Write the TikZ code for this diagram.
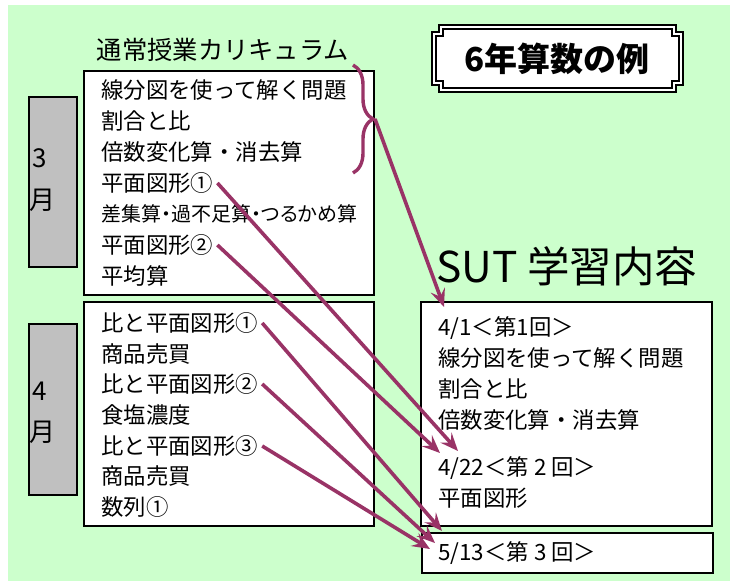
\documentclass[tikz,border=0pt]{standalone}
\usepackage{fontspec}
\setmainfont{Noto Sans CJK JP}
\newfontfamily\narrowjp[RawFeature=+palt]{Noto Sans CJK JP}
\usetikzlibrary{arrows.meta,decorations.pathreplacing}
\definecolor{bggreen}{HTML}{CCFFCC}
\definecolor{plum}{HTML}{993366}
\definecolor{monthgray}{HTML}{C0C0C0}
\tikzset{
  item/.style={anchor=west, inner sep=0pt, inner xsep=4pt, font=\fontsize{22.4}{26}\selectfont},
  monthtext/.style={anchor=west, inner sep=0pt, font=\fontsize{26}{30}\selectfont},
  frame/.style={draw=black, line width=1.6pt, fill=white},
  month/.style={draw=black, line width=1.6pt, fill=monthgray},
  link/.style={plum, line width=3.6pt, -{Stealth[length=18pt,width=15pt,inset=7pt]}},
}
\begin{document}
\begin{tikzpicture}[x=1pt, y=-1pt]
  \useasboundingbox (0,0) rectangle (736,583);
  \fill[bggreen] (8,5) rectangle (730,581);

  % headings
  \node (curr) at (223,50) {\fontsize{25.3}{28}\selectfont 通常授業カリキュラム};
  \node[anchor=west, inner sep=0pt] (sut) at (436,266) {\fontsize{42.5}{46}\selectfont SUT 学習内容};

  % title plaque
  \draw[line width=1.6pt, fill=white]
    (439,25) -- (676,25) -- (676,32) -- (683,32) -- (683,85) -- (676,85) -- (676,92)
    -- (439,92) -- (439,85) -- (432,85) -- (432,32) -- (439,32) -- cycle;
  \draw[line width=1.6pt]
    (443,29) -- (672,29) -- (672,36) -- (679,36) -- (679,81) -- (672,81) -- (672,88)
    -- (443,88) -- (443,81) -- (436,81) -- (436,36) -- (443,36) -- cycle;
  \node (title) at (557,59) {\fontsize{33}{36}\selectfont\bfseries 6年算数の例};

  % month tabs
  \draw[month] (29,97) rectangle (77,267);
  \draw[month] (29,324) rectangle (77,495);
  \node[monthtext] (mar1) at (32,158) {3};
  \node[monthtext] (mar2) at (29,200) {月};
  \node[monthtext] (apr1) at (32,391) {4};
  \node[monthtext] (apr2) at (29,432) {月};

  % March
  \draw[frame] (84,71) rectangle (374,295);
  \node[item] (m1) at (97,90) {線分図を使って解く問題};
  \node[item] (m2) at (97,121) {割合と比};
  \node[item] (m3) at (97,152) {倍数変化算・消去算};
  \node[item] (m4) at (97,183) {平面図形①};
  \node[item] (m5) at (97,214) {\narrowjp\fontsize{20}{24}\selectfont 差集算・過不足算・つるかめ算};
  \node[item] (m6) at (97,245) {平面図形②};
  \node[item] (m7) at (97,276) {平均算};

  % April
  \draw[frame] (84,302) rectangle (374,526);
  \node[item] (a1) at (97,323) {比と平面図形①};
  \node[item] (a2) at (97,354) {商品売買};
  \node[item] (a3) at (97,384) {比と平面図形②};
  \node[item] (a4) at (97,415) {食塩濃度};
  \node[item] (a5) at (97,446) {比と平面図形③};
  \node[item] (a6) at (97,476) {商品売買};
  \node[item] (a7) at (97,507) {数列①};

  % SUT sessions
  \draw[frame] (421,302) rectangle (712,526);
  \draw[frame] (422,533) rectangle (713,573);
  \node[item] (s1) at (434,328) {4/1＜第1回＞};
  \node[item] (s2) at (434,358) {線分図を使って解く問題};
  \node[item] (s3) at (434,389) {割合と比};
  \node[item] (s4) at (434,420) {倍数変化算・消去算};
  \node[item] (s5) at (434,468) {4/22＜第 2 回＞};
  \node[item] (s6) at (434,498) {平面図形};
  \node[item] (s7) at (434,553) {5/13＜第 3 回＞};

  % brace and arrows
  \draw[plum, line width=3.4pt, decorate, decoration={brace, amplitude=20pt}]
    (353,65) -- (353,173);
  \coordinate (bt) at (375,119);
  \coordinate (t1) at (444,307);
  \coordinate (t2) at (458,451);
  \coordinate (t3) at (440,453);
  \coordinate (t4) at (442,531);
  \coordinate (t5) at (435,543);
  \coordinate (t6) at (430,549);
  \draw[link] (bt) -- (t1);
  \draw[link] (m4.east) -- (t2);
  \draw[link] (m6.east) -- (t3);
  \draw[link] (a1.east) -- (t4);
  \draw[link] (a3.east) -- (t5);
  \draw[link] (a5.east) -- (t6);
\end{tikzpicture}
\end{document}
